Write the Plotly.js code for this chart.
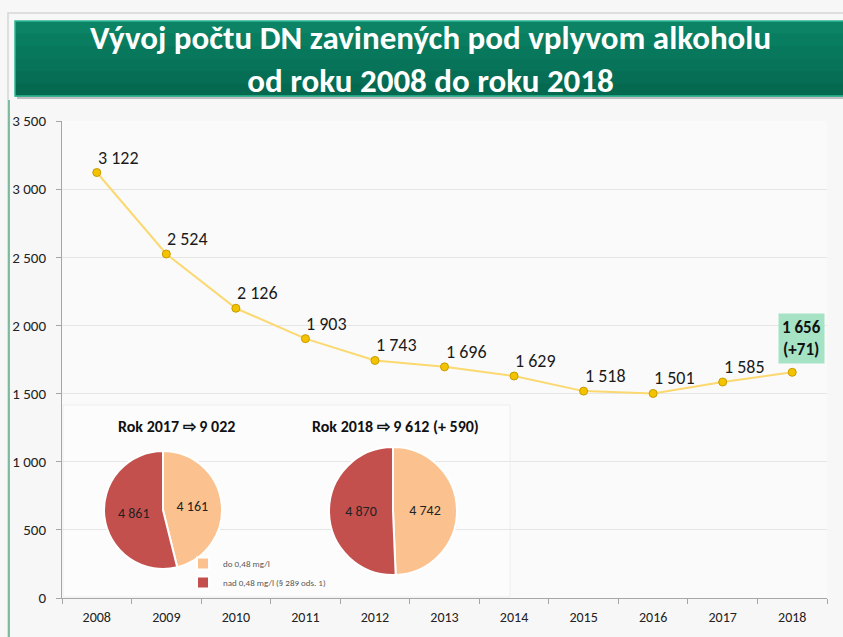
<!DOCTYPE html>
<html>
<head>
<meta charset="utf-8">
<script src="https://cdn.plot.ly/plotly-3.0.1.min.js"></script>
<style>html,body{margin:0;padding:0;background:#F7F7F7;}#chart{width:843px;height:637px;}</style>
</head>
<body>
<div id="chart"></div>
<script>
// ---- data ----
const years = ['2008','2009','2010','2011','2012','2013','2014','2015','2016','2017','2018'];
const accidents = [3122, 2524, 2126, 1903, 1743, 1696, 1629, 1518, 1501, 1585, 1656];
const lastChangeLabel = '(+71)';
const pieLabels = ['do 0,48 mg/l', 'nad 0,48 mg/l (§ 289 ods. 1)'];
const pie2017 = [4161, 4861];
const pie2018 = [4742, 4870];
const pieTitle2017 = 'Rok 2017 ⇨ 9 022';
const pieTitle2018 = 'Rok 2018 ⇨ 9 612 (+ 590)';
const titleLines = ['Vývoj počtu DN zavinených pod vplyvom alkoholu', 'od roku 2008 do roku 2018'];
const yTicks = [0, 500, 1000, 1500, 2000, 2500, 3000, 3500];

const W = 843, H = 637;
const px = x => x / W;
const py = y => 1 - y / H;
const fmt = v => String(v).replace(/\B(?=(\d{3})+(?!\d))/g, ' ');
const FONT = "Carlito, 'Liberation Sans Narrow', 'Open Sans', sans-serif";
const last = accidents.length - 1;

const traces = [
  {
    type: 'scatter', mode: 'lines+markers',
    x: years, y: accidents,
    line: {color: '#FBD970', width: 2},
    marker: {color: '#F4C300', size: 8, line: {color: '#C89B00', width: 1}},
    showlegend: false, hoverinfo: 'x+y', cliponaxis: false
  },
  {
    type: 'pie', values: pie2017, labels: pieLabels,
    text: pie2017.map(fmt), textinfo: 'text', textposition: 'inside',
    insidetextorientation: 'horizontal',
    textfont: {family: FONT, size: 14, color: '#222'},
    sort: false, direction: 'clockwise', rotation: 0,
    marker: {colors: ['#FBC290', '#C4504E'], line: {color: '#ffffff', width: 2}},
    domain: {x: [px(104), px(222)], y: [py(569), py(451)]},
    showlegend: true
  },
  {
    type: 'pie', values: pie2018, labels: pieLabels,
    text: pie2018.map(fmt), textinfo: 'text', textposition: 'inside',
    insidetextorientation: 'horizontal',
    textfont: {family: FONT, size: 14, color: '#222'},
    sort: false, direction: 'clockwise', rotation: 0,
    marker: {colors: ['#FBC290', '#C4504E'], line: {color: '#ffffff', width: 2}},
    domain: {x: [px(329), px(457)], y: [py(575), py(447)]},
    showlegend: false
  }
];

const shapes = [
  // outer frame
  {type: 'rect', xref: 'paper', yref: 'paper', x0: px(8), x1: px(850), y0: py(640), y1: py(13),
   fillcolor: 'rgba(0,0,0,0)', line: {color: '#D6D6D6', width: 1.5}, layer: 'below'},
  {type: 'line', xref: 'paper', yref: 'paper', x0: px(9), x1: px(9), y0: py(640), y1: py(100),
   line: {color: '#5AAE86', width: 1.5}, layer: 'below'},
  // banner shadow
  {type: 'rect', xref: 'paper', yref: 'paper', x0: px(17), x1: px(850), y0: py(99), y1: py(24),
   fillcolor: '#9A9A9A', line: {width: 0}, layer: 'below', opacity: 0.6}
];
// banner with stepped vertical gradient
const bandCols = ['#0B8364', '#097D60', '#08785C', '#077358', '#066E54', '#056950'];
const bTop = 21, bBot = 96, bStep = (bBot - bTop) / bandCols.length;
bandCols.forEach((c, i) => shapes.push({type: 'rect', xref: 'paper', yref: 'paper', x0: px(15), x1: px(850),
  y0: py(bTop + (i + 1) * bStep + 0.5), y1: py(bTop + i * bStep), fillcolor: c, line: {width: 0}, layer: 'below'}));
shapes.push({type: 'rect', xref: 'paper', yref: 'paper', x0: px(15), x1: px(850), y0: py(bBot), y1: py(bTop),
  fillcolor: 'rgba(0,0,0,0)', line: {color: '#2CB894', width: 1.5}, layer: 'below'});
// vertical gridlines at category centres
years.forEach(yr => shapes.push({type: 'line', xref: 'x', yref: 'y', x0: yr, x1: yr, y0: 0, y1: 3500,
  line: {color: '#DCDCDC', width: 1}, layer: 'between'}));
// white inset panel behind pies
shapes.push({type: 'rect', xref: 'paper', yref: 'paper', x0: px(63), x1: px(510), y0: py(597), y1: py(405),
  fillcolor: '#FCFCFC', line: {color: '#EEEEEE', width: 1}, layer: 'between'});

const annotations = [
  {xref: 'paper', yref: 'paper', x: px(430), y: py(60), text: '<b>' + titleLines.join('<br>') + '</b>', showarrow: false,
   font: {family: FONT, size: 33, color: '#ffffff'}, xanchor: 'center', yanchor: 'middle'},
  {xref: 'paper', yref: 'paper', x: px(176), y: py(427), text: '<b>' + pieTitle2017 + '</b>', showarrow: false,
   font: {family: FONT, size: 16, color: '#111'}, xanchor: 'center', yanchor: 'middle'},
  {xref: 'paper', yref: 'paper', x: px(395), y: py(427), text: '<b>' + pieTitle2018 + '</b>', showarrow: false,
   font: {family: FONT, size: 16, color: '#111'}, xanchor: 'center', yanchor: 'middle'}
];
// data labels for the line
accidents.forEach((v, i) => {
  if (i === last) return;
  annotations.push({xref: 'x', yref: 'y', x: i, y: v, text: fmt(v), showarrow: false,
    xanchor: 'left', yanchor: 'bottom', xshift: -1, yshift: 2,
    font: {family: FONT, size: 18, color: '#1a1a1a'}});
});
annotations.push({xref: 'x', yref: 'y', x: last, y: accidents[last],
  text: '<b>' + fmt(accidents[last]) + '<br>' + lastChangeLabel + '</b>', showarrow: false,
  xanchor: 'center', yanchor: 'bottom', xshift: 9, yshift: 8,
  bgcolor: '#A6E3C5', borderpad: 3,
  font: {family: FONT, size: 17, color: '#111'}});

const layout = {
  width: W, height: H,
  margin: {l: 0, r: 0, t: 0, b: 0},
  paper_bgcolor: '#F7F7F7', plot_bgcolor: '#FAFAFA',
  separators: ', ',
  font: {family: FONT, color: '#222'},
  xaxis: {
    domain: [px(62), px(827)], type: 'category', range: [-0.5, 10.5],
    showgrid: false, tickson: 'boundaries', ticks: 'outside', ticklen: 5, tickcolor: '#A6A6A6',
    showline: true, linecolor: '#A6A6A6', linewidth: 1, ticklabelstandoff: 6,
    tickfont: {family: FONT, size: 14, color: '#222'}, fixedrange: true
  },
  yaxis: {
    domain: [py(598), py(121)], range: [0, 3500], tickvals: yTicks, tickformat: ',d',
    showgrid: true, gridcolor: '#E6E6E6', zeroline: false,
    ticks: 'outside', ticklen: 5, tickcolor: '#A6A6A6',
    showline: true, linecolor: '#A6A6A6', linewidth: 1, ticklabelstandoff: 7,
    tickfont: {family: FONT, size: 15, color: '#222'}, fixedrange: true
  },
  legend: {x: px(183), y: py(549), xanchor: 'left', yanchor: 'top',
    font: {family: FONT, size: 9, color: '#595959'}, bgcolor: 'rgba(0,0,0,0)', tracegroupgap: 0},
  shapes: shapes,
  annotations: annotations
};

Plotly.newPlot('chart', traces, layout, {displayModeBar: false, staticPlot: true});
</script>
</body>
</html>
